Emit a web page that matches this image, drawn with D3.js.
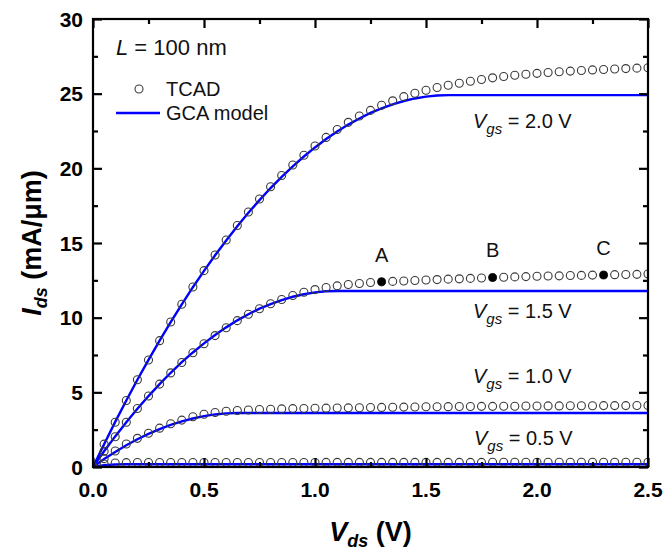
<!DOCTYPE html>
<html>
<head>
<meta charset="utf-8">
<script src="https://cdn.jsdelivr.net/npm/d3@7"></script>
<style>
  html, body { margin: 0; padding: 0; background: #fff; }
  svg { display: block; font-family: "Liberation Sans", Arial, sans-serif; }
</style>
</head>
<body>
<svg id="chart" width="665" height="551"></svg>
<script>
// Drain voltage grid (V)
const vds = [0, 0.05, 0.1, 0.15, 0.2, 0.25, 0.3, 0.35, 0.4, 0.45,
  0.5, 0.55, 0.6, 0.65, 0.7, 0.75, 0.8, 0.85, 0.9, 0.95,
  1.0, 1.05, 1.1, 1.15, 1.2, 1.25, 1.3, 1.35, 1.4, 1.45,
  1.5, 1.55, 1.6, 1.65, 1.7, 1.75, 1.8, 1.85, 1.9, 1.95,
  2.0, 2.05, 2.1, 2.15, 2.2, 2.25, 2.3, 2.35, 2.4, 2.45, 2.5];

// Gate voltages of the four curves
const vgsLabels = ["2.0", "1.5", "1.0", "0.5"];

// TCAD simulated drain current (mA/um)
const tcad20 = [0, 1.53, 3.0, 4.45, 5.84, 7.17, 8.46, 9.71, 10.9, 12.05,
  13.15, 14.2, 15.2, 16.17, 17.08, 17.95, 18.77, 19.52, 20.22, 20.88,
  21.5, 22.07, 22.6, 23.08, 23.5, 23.88, 24.22, 24.52, 24.8, 25.03,
  25.23, 25.41, 25.56, 25.7, 25.83, 25.95, 26.06, 26.15, 26.23, 26.3,
  26.36, 26.42, 26.47, 26.51, 26.55, 26.59, 26.62, 26.65, 26.68, 26.71, 26.74];
const tcad15 = [0, 1.05, 2.03, 3.0, 3.92, 4.75, 5.55, 6.3, 7.0, 7.65,
  8.25, 8.8, 9.32, 9.8, 10.23, 10.6, 10.93, 11.22, 11.48, 11.7,
  11.88, 12.02, 12.13, 12.22, 12.29, 12.35, 12.4, 12.43, 12.46, 12.49,
  12.52, 12.55, 12.58, 12.6, 12.63, 12.66, 12.69, 12.71, 12.73, 12.75,
  12.77, 12.79, 12.8, 12.82, 12.83, 12.85, 12.86, 12.88, 12.89, 12.9, 12.92];
const tcad10 = [0, 0.56, 1.07, 1.54, 1.92, 2.26, 2.6, 2.9, 3.14, 3.36,
  3.53, 3.65, 3.73, 3.78, 3.82, 3.85, 3.87, 3.89, 3.91, 3.92,
  3.93, 3.94, 3.95, 3.96, 3.97, 3.98, 3.99, 4.0, 4.01, 4.02,
  4.03, 4.03, 4.04, 4.05, 4.05, 4.06, 4.06, 4.07, 4.07, 4.08,
  4.08, 4.09, 4.09, 4.1, 4.1, 4.1, 4.11, 4.11, 4.11, 4.12, 4.12];
const tcad05 = [0, 0.2, 0.27, 0.29, 0.3, 0.3, 0.3, 0.3, 0.3, 0.3,
  0.3, 0.3, 0.3, 0.3, 0.3, 0.3, 0.3, 0.3, 0.3, 0.3,
  0.3, 0.31, 0.31, 0.31, 0.31, 0.31, 0.31, 0.31, 0.31, 0.31,
  0.31, 0.31, 0.31, 0.31, 0.31, 0.31, 0.32, 0.32, 0.32, 0.32,
  0.32, 0.32, 0.32, 0.32, 0.32, 0.32, 0.32, 0.32, 0.32, 0.32, 0.32];

// GCA model drain current (mA/um)
const gca20 = [0, 1.53, 3.02, 4.45, 5.84, 7.17, 8.46, 9.70, 10.89, 12.04,
  13.13, 14.18, 15.17, 16.12, 17.02, 17.87, 18.68, 19.43, 20.13, 20.79,
  21.40, 21.96, 22.47, 22.93, 23.34, 23.71, 24.02, 24.29, 24.51, 24.68,
  24.80, 24.88, 24.90, 24.9, 24.9, 24.9, 24.9, 24.9, 24.9, 24.9,
  24.9, 24.9, 24.9, 24.9, 24.9, 24.9, 24.9, 24.9, 24.9, 24.9, 24.9];
const gca15 = [0, 1.05, 2.05, 3.00, 3.90, 4.75, 5.55, 6.31, 7.02, 7.67,
  8.28, 8.84, 9.35, 9.82, 10.23, 10.60, 10.91, 11.18, 11.40, 11.57,
  11.69, 11.77, 11.79, 11.79, 11.79, 11.79, 11.79, 11.79, 11.79, 11.79,
  11.79, 11.79, 11.79, 11.79, 11.79, 11.79, 11.79, 11.79, 11.79, 11.79,
  11.79, 11.79, 11.79, 11.79, 11.79, 11.79, 11.79, 11.79, 11.79, 11.79, 11.79];
const gca10 = [0, 0.53, 1.01, 1.46, 1.86, 2.22, 2.54, 2.82, 3.06, 3.25,
  3.41, 3.52, 3.59, 3.62, 3.62, 3.62, 3.62, 3.62, 3.62, 3.62,
  3.62, 3.62, 3.62, 3.62, 3.62, 3.62, 3.62, 3.62, 3.62, 3.62,
  3.62, 3.62, 3.62, 3.62, 3.62, 3.62, 3.62, 3.62, 3.62, 3.62,
  3.62, 3.62, 3.62, 3.62, 3.62, 3.62, 3.62, 3.62, 3.62, 3.62, 3.62];
const gca05 = [0, 0.12, 0.17, 0.18, 0.18, 0.18, 0.18, 0.18, 0.18, 0.18,
  0.18, 0.18, 0.18, 0.18, 0.18, 0.18, 0.18, 0.18, 0.18, 0.18,
  0.18, 0.18, 0.18, 0.18, 0.18, 0.18, 0.18, 0.18, 0.18, 0.18,
  0.18, 0.18, 0.18, 0.18, 0.18, 0.18, 0.18, 0.18, 0.18, 0.18,
  0.18, 0.18, 0.18, 0.18, 0.18, 0.18, 0.18, 0.18, 0.18, 0.18, 0.18];

// Highlighted bias points on the Vgs = 1.5 V curve
const markNames = ["A", "B", "C"];
const markVds = [1.3, 1.8, 2.3];
const markIds = [12.4, 12.69, 12.86];

// Axis ticks
const xTicks = [0, 0.5, 1.0, 1.5, 2.0, 2.5];
const xMinor = [0.25, 0.75, 1.25, 1.75, 2.25];
const yTicks = [0, 5, 10, 15, 20, 25, 30];
const yMinor = [2.5, 7.5, 12.5, 17.5, 22.5, 27.5];

const tcadSeries = [tcad20, tcad15, tcad10, tcad05];
const gcaSeries = [gca20, gca15, gca10, gca05];

const W = 665, H = 551;
const m = { left: 93, right: 17, top: 19, bottom: 84 };
const pw = W - m.left - m.right, ph = H - m.top - m.bottom;

const svg = d3.select("#chart");
const x = d3.scaleLinear().domain([0, 2.5]).range([m.left, m.left + pw]);
const y = d3.scaleLinear().domain([0, 30]).range([m.top + ph, m.top]);

svg.append("defs").append("clipPath").attr("id", "plotClip")
  .append("rect").attr("x", m.left).attr("y", m.top).attr("width", pw).attr("height", ph);

const blue = "#0000ff";
const plot = svg.append("g").attr("clip-path", "url(#plotClip)");

// Model curves
const line = d3.line().x((d, i) => x(vds[i])).y(d => y(d));
gcaSeries.forEach(s => {
  plot.append("path").datum(s).attr("d", line)
    .attr("fill", "none").attr("stroke", blue).attr("stroke-width", 2.4);
});

// TCAD open circles
tcadSeries.forEach(s => {
  plot.append("g").selectAll("circle").data(s).join("circle")
    .attr("cx", (d, i) => x(vds[i])).attr("cy", d => y(d)).attr("r", 4)
    .attr("fill", "none").attr("stroke", "#3a3a3a").attr("stroke-width", 1.1);
});

// Filled bias points A, B, C
plot.append("g").selectAll("circle").data(markVds).join("circle")
  .attr("cx", d => x(d)).attr("cy", (d, i) => y(markIds[i])).attr("r", 4)
  .attr("fill", "#000");
svg.append("g").selectAll("text").data(markNames).join("text")
  .attr("x", (d, i) => x(markVds[i])).attr("y", (d, i) => y(markIds[i]) - 20)
  .attr("text-anchor", "middle").attr("font-size", 20).attr("fill", "#111")
  .text(d => d);

// Axes with inward ticks on all four sides
const axisW = 2.2;
function ticksAlong(g, axisGen, size) {
  g.call(axisGen.tickSize(size).tickFormat(""));
  g.select(".domain").remove();
  g.selectAll("line").attr("stroke", "#000").attr("stroke-width", axisW);
}
const gBottom = svg.append("g").attr("transform", `translate(0,${m.top + ph})`);
ticksAlong(gBottom.append("g"), d3.axisTop(x).tickValues(xTicks), 9);
ticksAlong(gBottom.append("g"), d3.axisTop(x).tickValues(xMinor), 5);
const gTop = svg.append("g").attr("transform", `translate(0,${m.top})`);
ticksAlong(gTop.append("g"), d3.axisBottom(x).tickValues(xTicks), 9);
ticksAlong(gTop.append("g"), d3.axisBottom(x).tickValues(xMinor), 5);
const gLeft = svg.append("g").attr("transform", `translate(${m.left},0)`);
ticksAlong(gLeft.append("g"), d3.axisRight(y).tickValues(yTicks), 9);
ticksAlong(gLeft.append("g"), d3.axisRight(y).tickValues(yMinor), 5);
const gRight = svg.append("g").attr("transform", `translate(${m.left + pw},0)`);
ticksAlong(gRight.append("g"), d3.axisLeft(y).tickValues(yTicks), 9);
ticksAlong(gRight.append("g"), d3.axisLeft(y).tickValues(yMinor), 5);

svg.append("rect").attr("x", m.left).attr("y", m.top).attr("width", pw).attr("height", ph)
  .attr("fill", "none").attr("stroke", "#000").attr("stroke-width", axisW);

// Tick labels
svg.append("g").selectAll("text").data(xTicks).join("text")
  .attr("x", d => x(d)).attr("y", m.top + ph + 30)
  .attr("text-anchor", "middle").attr("font-size", 21).attr("font-weight", "bold")
  .text(d => d3.format(".1f")(d));
svg.append("g").selectAll("text").data(yTicks).join("text")
  .attr("x", m.left - 10).attr("y", d => y(d) + 7.5)
  .attr("text-anchor", "end").attr("font-size", 21).attr("font-weight", "bold")
  .text(d => d);

// Axis titles
const xt = svg.append("text").attr("x", m.left + pw / 2).attr("y", 541)
  .attr("text-anchor", "middle").attr("font-size", 27).attr("font-weight", "bold");
xt.append("tspan").attr("font-style", "italic").text("V");
xt.append("tspan").attr("font-style", "italic").attr("font-size", 18).attr("dy", 6).text("ds");
xt.append("tspan").attr("dy", -6).text(" (V)");

const yt = svg.append("text")
  .attr("transform", `translate(41,${m.top + ph / 2}) rotate(-90)`)
  .attr("text-anchor", "middle").attr("font-size", 27).attr("font-weight", "bold");
yt.append("tspan").attr("font-style", "italic").text("I");
yt.append("tspan").attr("font-style", "italic").attr("font-size", 18).attr("dy", 6).text("ds");
yt.append("tspan").attr("dy", -6).text(" (mA/μm)");

// Channel length note
const lt = svg.append("text").attr("x", 116).attr("y", 55).attr("font-size", 22).attr("fill", "#111");
lt.append("tspan").attr("font-style", "italic").text("L");
lt.append("tspan").text(" = 100 nm");

// Legend
svg.append("circle").attr("cx", 139).attr("cy", 89).attr("r", 4)
  .attr("fill", "none").attr("stroke", "#3a3a3a").attr("stroke-width", 1.1);
svg.append("text").attr("x", 166).attr("y", 96).attr("font-size", 20).attr("fill", "#111").text("TCAD");
svg.append("line").attr("x1", 116).attr("x2", 160).attr("y1", 113).attr("y2", 113)
  .attr("stroke", blue).attr("stroke-width", 2.4);
svg.append("text").attr("x", 166).attr("y", 120).attr("font-size", 20).attr("fill", "#111").text("GCA model");

// Gate-voltage annotations
const vgsPos = [[473, 128], [473, 318], [473, 383], [474, 445]];
vgsLabels.forEach((v, i) => {
  const t = svg.append("text").attr("x", vgsPos[i][0]).attr("y", vgsPos[i][1])
    .attr("font-size", 20).attr("fill", "#111");
  t.append("tspan").attr("font-style", "italic").text("V");
  t.append("tspan").attr("font-style", "italic").attr("font-size", 15).attr("dy", 6).text("gs");
  t.append("tspan").attr("dy", -6).text(` = ${v} V`);
});
</script>
</body>
</html>
